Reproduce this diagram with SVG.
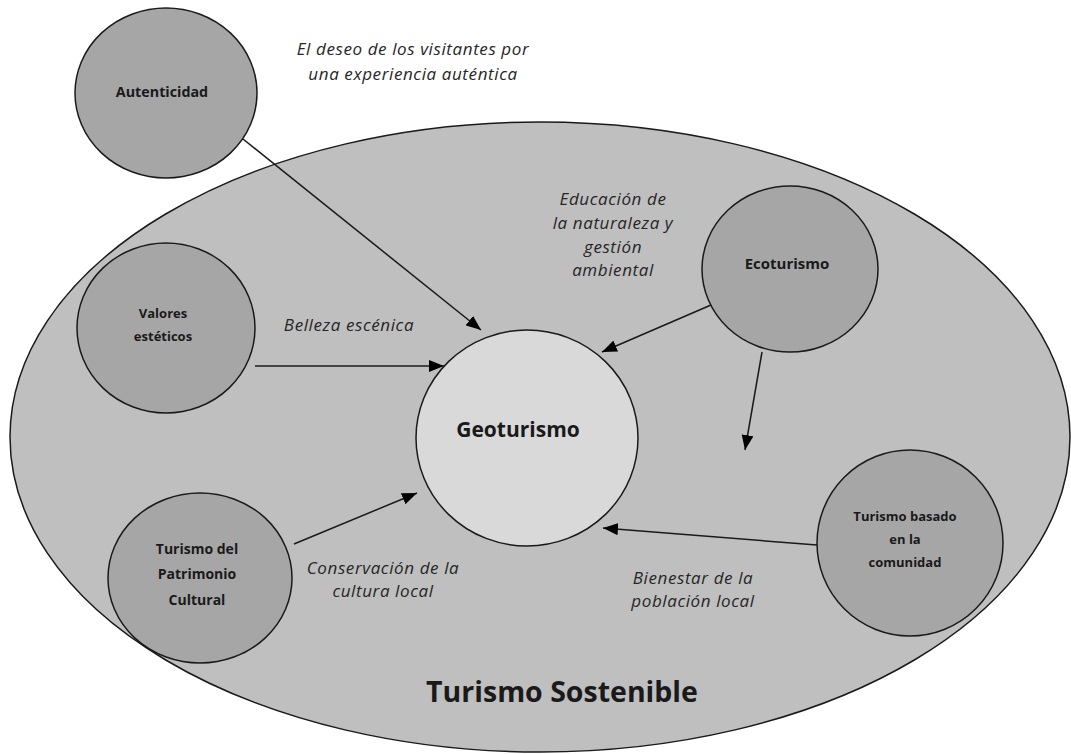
<svg xmlns="http://www.w3.org/2000/svg" width="1071" height="754" viewBox="0 0 1071 754">
<style>
.bg{fill:#ffffff}
.outer{fill:#bfbfbf;stroke:#1a1a1a;stroke-width:1.5}
.node{fill:#a6a6a6;stroke:#1a1a1a;stroke-width:1.5}
.center{fill:#d9d9d9;stroke:#1a1a1a;stroke-width:1.5}
.lbl{font-family:"Open Sans","Liberation Sans",sans-serif;font-weight:bold;fill:#1a1a1a;text-anchor:middle}
.it{font-family:"Open Sans","Liberation Sans",sans-serif;font-style:italic;fill:#262626;text-anchor:middle;font-size:17px;letter-spacing:0.6px}
.conn{stroke:#1a1a1a;stroke-width:1.5;fill:none;marker-end:url(#ah)}
</style>
<defs>
<marker id="ah" markerUnits="userSpaceOnUse" markerWidth="16" markerHeight="12" refX="15" refY="6" orient="auto">
<path d="M0,0 L15,6 L0,12 Z" fill="#000"/>
</marker>
</defs>
<rect class="bg" x="0" y="0" width="1071" height="754"/>
<g id="turismo-sostenible">
<ellipse class="outer" cx="540" cy="437" rx="530" ry="315"/>
<text class="lbl" x="562" y="702" font-size="28.5" font-weight="600">Turismo Sostenible</text>
</g>
<g id="connectors">
<line class="conn" x1="243" y1="139" x2="481" y2="330"/>
<line class="conn" x1="255" y1="366" x2="444" y2="366"/>
<line class="conn" x1="294" y1="544" x2="417" y2="493"/>
<line class="conn" x1="711" y1="305" x2="602" y2="352"/>
<line class="conn" x1="762" y1="352" x2="745" y2="450"/>
<line class="conn" x1="817" y1="545" x2="603" y2="528"/>
</g>
<g id="autenticidad">
<ellipse class="node" cx="166" cy="93" rx="91" ry="85"/>
<text class="lbl" x="162" y="97" font-size="14.3">Autenticidad</text>
</g>
<g id="valores">
<ellipse class="node" cx="166" cy="328" rx="89" ry="85"/>
<text class="lbl" x="163" y="318" font-size="13">Valores</text>
<text class="lbl" x="163" y="341" font-size="13">estéticos</text>
</g>
<g id="patrimonio">
<ellipse class="node" cx="200" cy="578" rx="92" ry="85"/>
<text class="lbl" x="197" y="554" font-size="14">Turismo del</text>
<text class="lbl" x="197" y="579" font-size="14">Patrimonio</text>
<text class="lbl" x="197" y="605" font-size="14">Cultural</text>
</g>
<g id="ecoturismo">
<ellipse class="node" cx="790" cy="269" rx="88" ry="83"/>
<text class="lbl" x="787" y="269" font-size="15">Ecoturismo</text>
</g>
<g id="comunidad">
<ellipse class="node" cx="910" cy="543" rx="93" ry="93"/>
<text class="lbl" x="905" y="521" font-size="13">Turismo basado</text>
<text class="lbl" x="905" y="544" font-size="13">en la</text>
<text class="lbl" x="905" y="567" font-size="13">comunidad</text>
</g>
<g id="geoturismo">
<ellipse class="center" cx="527" cy="438" rx="111" ry="108"/>
<text class="lbl" x="518" y="437" font-size="21">Geoturismo</text>
</g>
<g id="labels">
<text class="it" x="413" y="55">El deseo de los visitantes por</text>
<text class="it" x="413" y="80">una experiencia auténtica</text>
<text class="it" x="613" y="205">Educación de</text>
<text class="it" x="613" y="229">la naturaleza y</text>
<text class="it" x="613" y="253">gestión</text>
<text class="it" x="613" y="276">ambiental</text>
<text class="it" x="349" y="331">Belleza escénica</text>
<text class="it" x="383" y="574">Conservación de la</text>
<text class="it" x="383" y="597">cultura local</text>
<text class="it" x="693" y="584">Bienestar de la</text>
<text class="it" x="693" y="607">población local</text>
</g>
</svg>
